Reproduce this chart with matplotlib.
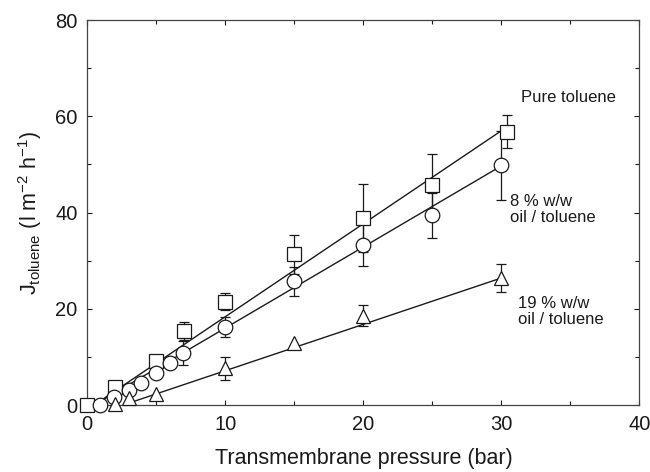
import matplotlib
matplotlib.use('Agg')
import matplotlib.pyplot as plt

plt.rcParams['font.family'] = ['Liberation Sans', 'DejaVu Sans']
plt.rcParams['mathtext.fontset'] = 'custom'
plt.rcParams['mathtext.rm'] = 'Liberation Sans'
plt.rcParams['mathtext.it'] = 'Liberation Sans:italic'

# pure toluene
x_pure = [0, 2, 5, 7, 10, 15, 20, 25, 30.4]
y_pure = [0, 3.7, 9.2, 15.4, 21.5, 31.3, 38.9, 45.8, 56.8]
e_pure = [0, 0, 0, 1.9, 1.8, 4.1, 7.0, 6.3, 3.4]

# 8 % w/w oil / toluene
x_8 = [0.9, 1.9, 3, 3.9, 5, 6, 6.9, 10, 15, 20, 25, 30]
y_8 = [0, 1.7, 3.1, 4.5, 6.6, 8.7, 10.8, 16.2, 25.7, 33.3, 39.4, 49.8]
e_8 = [0, 0, 0, 0, 0, 0, 2.4, 2.1, 3.0, 4.4, 4.7, 7.2]

# 19 % w/w oil / toluene
x_19 = [2, 3, 5, 10, 15, 20, 30]
y_19 = [0.2, 1.4, 2.3, 7.6, 12.8, 18.6, 26.4]
e_19 = [0, 0, 0, 2.4, 0, 2.1, 2.9]

# straight-line fits
fit_pure_x = [0.5, 30.0]
fit_pure_y = [0, 57.0]
fit_8_x = [0.5, 30.0]
fit_8_y = [0, 49.7]
fit_19_x = [2.8, 30.0]
fit_19_y = [0.2, 26.4]

fig = plt.figure(figsize=(6.5, 4.72), dpi=100)
ax = fig.add_axes([0.1343, 0.1419, 0.8495, 0.8157])

ink = '#1a1a1a'
for fx, fy in [(fit_pure_x, fit_pure_y), (fit_8_x, fit_8_y), (fit_19_x, fit_19_y)]:
    ax.plot(fx, fy, color=ink, lw=1.0, zorder=2)

for xs, ys, es, m, ms in [(x_pure, y_pure, e_pure, 's', 9.5),
                          (x_8, y_8, e_8, 'o', 10.5),
                          (x_19, y_19, e_19, '^', 10)]:
    bx = [x for x, e in zip(xs, es) if e > 0]
    by = [y for y, e in zip(ys, es) if e > 0]
    be = [e for e in es if e > 0]
    ax.errorbar(bx, by, yerr=be, fmt='none', ecolor=ink, elinewidth=0.9,
                capsize=3.6, capthick=0.9, zorder=1)
    ax.plot(xs, ys, ls='none', marker=m, ms=ms, mfc='white', mec=ink,
            mew=0.9, zorder=3, clip_on=False)

ax.set_xlim(0, 40)
ax.set_ylim(0, 80)
ax.set_xticks([0, 10, 20, 30, 40])
ax.set_xticks([5, 15, 25, 35], minor=True)
ax.set_yticks([0, 20, 40, 60, 80])
ax.set_yticks([10, 30, 50, 70], minor=True)
ax.tick_params(which='both', direction='in', top=True, right=True,
               colors=ink, labelsize=14.5)
ax.tick_params(axis='x', pad=7)
ax.tick_params(axis='y', pad=7)
ax.tick_params(which='major', length=3.5, width=0.8)
ax.tick_params(which='minor', length=3.0, width=0.8)
for s in ax.spines.values():
    s.set_color('#444444')
    s.set_linewidth(0.9)

ax.set_xlabel('Transmembrane pressure (bar)', fontsize=15.5, color=ink, labelpad=10)
ax.set_ylabel(r'J$_{\mathrm{toluene}}$ (l m$^{-2}$ h$^{-1}$)', fontsize=15.5,
              color=ink, labelpad=8)

ax.text(31.4, 63.8, 'Pure toluene', fontsize=12, color=ink, va='center')
ax.text(30.6, 40.7, '8 % w/w\noil / toluene', fontsize=12, color=ink,
        va='center', linespacing=1.1)
ax.text(31.2, 19.5, '19 % w/w\noil / toluene', fontsize=12, color=ink,
        va='center', linespacing=1.1)

fig.savefig('out.png', dpi=100)
